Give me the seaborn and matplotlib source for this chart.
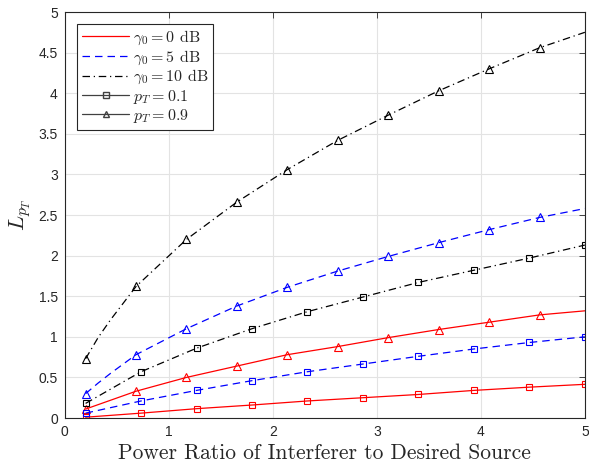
import matplotlib
matplotlib.use("Agg")
import matplotlib.pyplot as plt
from matplotlib.lines import Line2D
import seaborn as sns

# x positions of the points (markers on squares at all, on triangles at tri_marks)
x_sq = [0.2, 0.733, 1.267, 1.8, 2.333, 2.867, 3.4, 3.933, 4.467, 5.0]
x_tri = [0.2, 0.685, 1.17, 1.655, 2.14, 2.625, 3.11, 3.595, 4.08, 4.565, 5.0]
x_tri_fine = [0.2, 0.32, 0.44, 0.685, 1.17, 1.655, 2.14, 2.625, 3.11, 3.595, 4.08, 4.565, 5.0]

# gamma0 = 0 dB
y_0db_p01 = [0.01, 0.06, 0.115, 0.16, 0.21, 0.25, 0.29, 0.34, 0.38, 0.415]
y_0db_p09 = [0.11, 0.33, 0.50, 0.64, 0.78, 0.88, 0.99, 1.09, 1.18, 1.27, 1.32]
# gamma0 = 5 dB
y_5db_p01 = [0.06, 0.21, 0.34, 0.46, 0.57, 0.665, 0.76, 0.85, 0.93, 1.00]
y_5db_p09 = [0.30, 0.43, 0.55, 0.78, 1.10, 1.38, 1.61, 1.81, 1.99, 2.16, 2.32, 2.47, 2.58]
# gamma0 = 10 dB
y_10db_p01 = [0.18, 0.57, 0.86, 1.10, 1.31, 1.49, 1.67, 1.82, 1.97, 2.13]
y_10db_p09 = [0.73, 0.99, 1.21, 1.62, 2.20, 2.66, 3.06, 3.42, 3.73, 4.03, 4.30, 4.56, 4.75]

legend_labels = [r"$\gamma_0 = 0$ dB", r"$\gamma_0 = 5$ dB", r"$\gamma_0 = 10$ dB",
                 r"$p_T = 0.1$", r"$p_T = 0.9$"]

sns.set_style("whitegrid")
plt.rcParams["font.family"] = ["Liberation Sans"]
plt.rcParams["mathtext.fontset"] = "cm"

fig = plt.figure(figsize=(5.89, 4.71), dpi=100)
ax = fig.add_axes([0.110, 0.1125, 0.883, 0.862])

dash = (0, (6, 4))
dashdot = (0, (6, 3, 1, 3))
fine_marks = [0] + list(range(3, 12))
series = [
    (x_sq, y_0db_p01, "red", "-", "s", 5, list(range(10))),
    (x_tri, y_0db_p09, "red", "-", "^", 6, list(range(10))),
    (x_sq, y_5db_p01, "blue", dash, "s", 5, list(range(10))),
    (x_tri_fine, y_5db_p09, "blue", dash, "^", 6, fine_marks),
    (x_sq, y_10db_p01, "black", dashdot, "s", 5, list(range(10))),
    (x_tri_fine, y_10db_p09, "black", dashdot, "^", 6, fine_marks),
]
for xs, ys, c, ls, mk, ms, marks in series:
    sns.lineplot(x=xs, y=ys, ax=ax, color=c, linestyle=ls, linewidth=0.9,
                 marker=mk, markersize=ms, markerfacecolor="none",
                 markeredgecolor=c, markeredgewidth=0.8,
                 markevery=marks, sort=False, estimator=None)

ax.set_xlim(0, 5)
ax.set_ylim(0, 5)
ax.set_xticks([0, 1, 2, 3, 4, 5])
ax.set_yticks([0, 0.5, 1, 1.5, 2, 2.5, 3, 3.5, 4, 4.5, 5])
ax.set_yticklabels(["0", "0.5", "1", "1.5", "2", "2.5", "3", "3.5", "4", "4.5", "5"])
ax.tick_params(direction="in", top=True, right=True, length=4, width=0.6,
               labelsize=10, colors="#262626", pad=5)
ax.grid(True, color="#e3e3e3", linewidth=0.8)
for s in ax.spines.values():
    s.set_color("#262626")
    s.set_linewidth(0.8)

ax.set_xlabel("Power Ratio of Interferer to Desired Source", fontsize=15.5,
              fontfamily="cmr10", labelpad=3, color="#262626")
ax.set_ylabel(r"$L_{p_T}$", fontsize=16, labelpad=4, color="#262626")

handles = [
    Line2D([], [], color="red", linestyle="-", linewidth=0.9),
    Line2D([], [], color="blue", linestyle=dash, linewidth=0.9),
    Line2D([], [], color="black", linestyle=dashdot, linewidth=0.9),
    Line2D([], [], color="#404040", linestyle="-", linewidth=0.9, marker="s",
           markersize=4, markerfacecolor="none"),
    Line2D([], [], color="#404040", linestyle="-", linewidth=0.9, marker="^",
           markersize=5, markerfacecolor="none"),
]
leg = ax.legend(handles, legend_labels, loc="upper left",
                prop={"family": "cmr10", "size": 11.5},
                frameon=True, fancybox=False, framealpha=1, edgecolor="#262626",
                handlelength=3.0, handletextpad=0.2, labelspacing=0.08,
                borderpad=0.3, borderaxespad=0.75)
leg.get_frame().set_linewidth(0.8)

fig.savefig("out.png", dpi=100)
